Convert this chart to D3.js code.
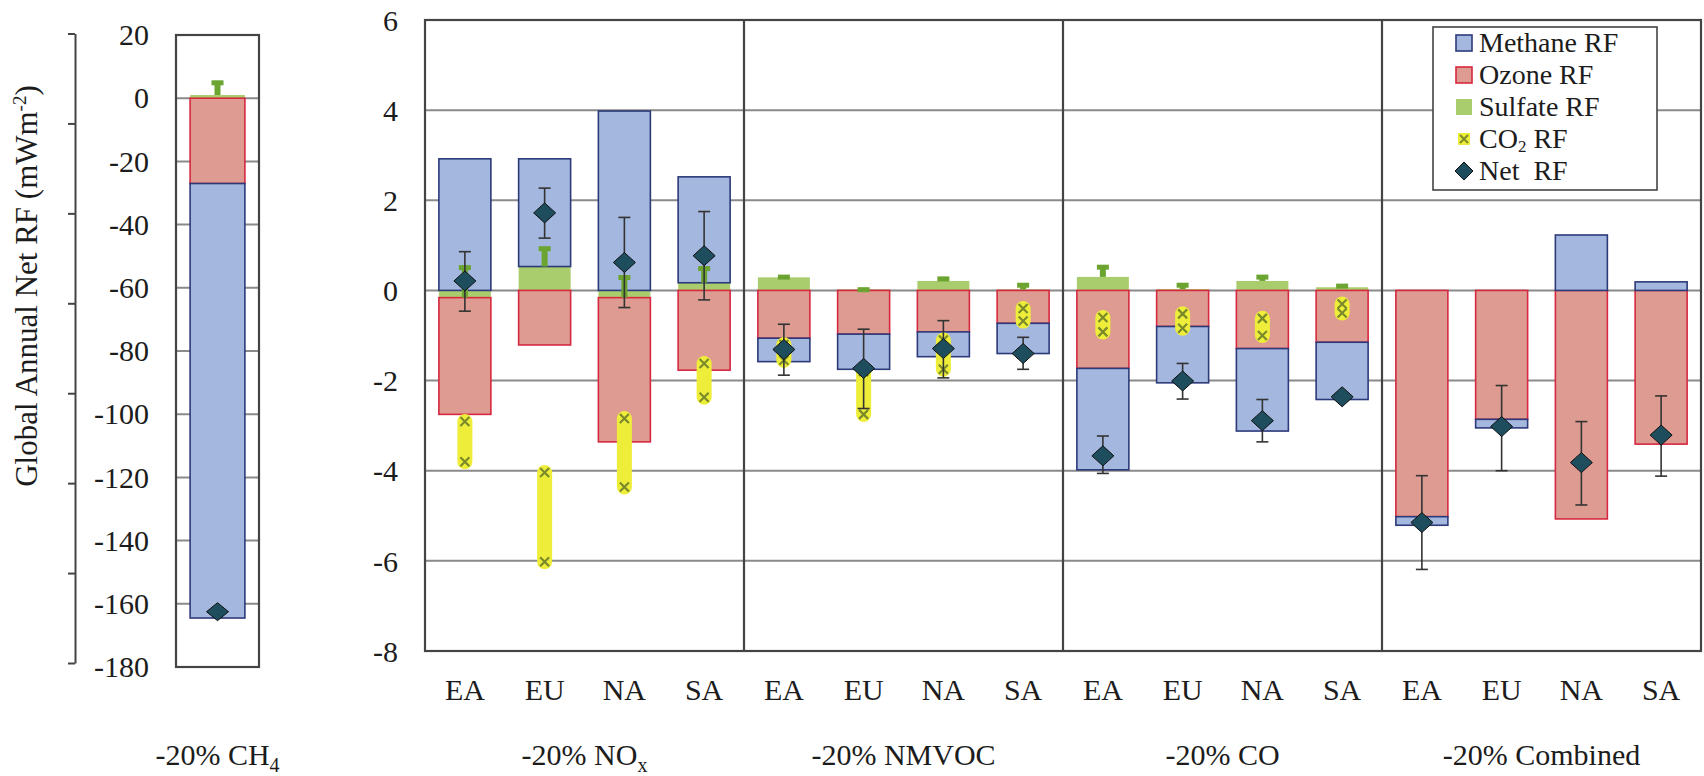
<!DOCTYPE html>
<html>
<head>
<meta charset="utf-8">
<script src="https://cdn.jsdelivr.net/npm/d3@7"></script>
<style>
  body { margin: 0; background: #fff; }
  text { font-family: "Liberation Serif", "Times New Roman", serif; fill: #1c1c1c; }
</style>
</head>
<body>
<svg id="chart" width="1704" height="776"></svg>
<script>
// ---- Data -------------------------------------------------------------
const regions = ["EA", "EU", "NA", "SA"];
const scenarioNames = ["-20% NO", "-20% NMVOC", "-20% CO", "-20% Combined"];
const scenarioSubs = ["x", "", "", ""];

// Stacked components (mW m-2), 4 regions per scenario: NOx, NMVOC, CO, Combined
const sulfateRF = [-0.16, 0.53, -0.16, 0.17,  0.29, 0.02, 0.21, 0.02,  0.30, 0.03, 0.21, 0.07,  0, 0, 0, 0];
const ozoneRF   = [-2.59, -1.21, -3.20, -1.77,  -1.06, -0.97, -0.92, -0.73,  -1.73, -0.80, -1.29, -1.15,  -5.02, -2.86, -5.07, -3.41];
const methaneRF = [2.92, 2.39, 3.98, 2.35,  -0.52, -0.78, -0.55, -0.67,  -2.25, -1.25, -1.83, -1.27,  -0.19, -0.19, 1.23, 0.19];
const sulfateErr = [0.71, 0.44, 0.49, 0.36,  0.05, 0.04, 0.09, 0.14,  0.26, 0.13, 0.13, 0.07,  0, 0, 0, 0];

// CO2 RF: two estimates per case
const co2High = [-2.91, -4.04, -2.84, -1.62,  -1.20, -1.80, -1.10, -0.40,  -0.60, -0.52, -0.62, -0.30,  null, null, null, null];
const co2Low  = [-3.80, -6.02, -4.36, -2.37,  -1.55, -2.75, -1.75, -0.68,  -0.92, -0.84, -1.00, -0.50,  null, null, null, null];

// Net RF with uncertainty range
const netRF   = [0.21, 1.72, 0.62, 0.77,  -1.31, -1.73, -1.29, -1.40,  -3.67, -2.01, -2.89, -2.36,  -5.15, -3.02, -3.82, -3.21];
const netLow  = [-0.46, 1.16, -0.38, -0.21,  -1.88, -2.62, -1.94, -1.75,  -4.06, -2.41, -3.36, -2.45,  -6.19, -4.00, -4.76, -4.12];
const netHigh = [0.86, 2.27, 1.62, 1.75,  -0.75, -0.86, -0.67, -1.04,  -3.23, -1.62, -2.42, -2.28,  -4.11, -2.11, -2.91, -2.34];

const mainTicks = [-8, -6, -4, -2, 0, 2, 4, 6];

// Methane perturbation (separate panel)
const ch4Sulfate = [1];
const ch4Ozone = [-27];
const ch4Methane = [-137.5];
const ch4SulfateErr = [4.5];
const ch4Net = [-162.5];
const ch4Ticks = [20, 0, -20, -40, -60, -80, -100, -120, -140, -160, -180];

const legendItems = ["Methane RF", "Ozone RF", "Sulfate RF", "CO2 RF", "Net RF"];

// ---- Styles ------------------------------------------------------------
const col = {
  methane: "#a4b7de", methaneLine: "#2d3a7a",
  ozone: "#de9b92", ozoneLine: "#d6283f",
  sulfate: "#a9cd6d", sulfateErr: "#6ca432",
  co2: "#eeee3a", co2Mark: "#7a8a2a",
  net: "#1e4d5e", netLine: "#111",
  grid: "#8a8a8a", frame: "#444"
};
const FONT = 30;

const svg = d3.select("#chart");

function diamondPath(hw, hh) {
  return `M0,${-hh}L${hw},0L0,${hh}L${-hw},0Z`;
}
function crossPath(s) {
  return `M${-s},${-s}L${s},${s}M${-s},${s}L${s},${-s}`;
}

function drawStack(g, rows, xs, ys) {
  const layers = d3.stack().keys(["sulfate", "ozone", "methane"]).offset(d3.stackOffsetDiverging)(rows);
  const fills = { sulfate: col.sulfate, ozone: col.ozone, methane: col.methane };
  const lines = { sulfate: "none", ozone: col.ozoneLine, methane: col.methaneLine };
  layers.forEach(layer => {
    g.selectAll(null)
      .data(layer.filter(d => d[1] !== d[0]))
      .join("rect")
      .attr("x", d => xs(d.data.key))
      .attr("width", xs.bandwidth())
      .attr("y", d => ys(Math.max(d[0], d[1])))
      .attr("height", d => Math.abs(ys(d[0]) - ys(d[1])))
      .attr("fill", fills[layer.key])
      .attr("stroke", lines[layer.key])
      .attr("stroke-width", 1.6);
  });
}

function drawSulfateErr(g, rows, xs, ys) {
  const withErr = rows.filter(d => d.sErr > 0);
  const cx = d => xs(d.key) + xs.bandwidth() / 2;
  g.selectAll(null).data(withErr).join("line")
    .attr("x1", cx).attr("x2", cx)
    .attr("y1", d => ys(d.sulfate)).attr("y2", d => ys(d.sulfate + d.sErr))
    .attr("stroke", col.sulfateErr).attr("stroke-width", 6);
  g.selectAll(null).data(withErr).join("line")
    .attr("x1", d => cx(d) - 6).attr("x2", d => cx(d) + 6)
    .attr("y1", d => ys(d.sulfate + d.sErr) + 2).attr("y2", d => ys(d.sulfate + d.sErr) + 2)
    .attr("stroke", col.sulfateErr).attr("stroke-width", 5);
}

// ---- Main panel --------------------------------------------------------
const M = { x0: 425, x1: 1701, y0: 20, y1: 651 };
const keys = scenarioNames.flatMap((s, i) => regions.map(r => i + "-" + r));
const x = d3.scaleBand().domain(keys).range([M.x0, M.x1]).paddingInner(0.348).paddingOuter(0.174);
const y = d3.scaleLinear().domain([-8, 6]).range([M.y1, M.y0]);
const cx = k => x(k) + x.bandwidth() / 2;

const rows = keys.map((k, i) => ({
  key: k, sulfate: sulfateRF[i], ozone: ozoneRF[i], methane: methaneRF[i],
  sErr: sulfateErr[i], hi: co2High[i], lo: co2Low[i],
  net: netRF[i], nLo: netLow[i], nHi: netHigh[i]
}));

const main = svg.append("g");

// gridlines
main.append("g").selectAll("line").data(mainTicks).join("line")
  .attr("x1", M.x0).attr("x2", M.x1)
  .attr("y1", d => y(d)).attr("y2", d => y(d))
  .attr("stroke", col.grid).attr("stroke-width", 2);

// y axis labels (plain hyphen for negatives)
const yAxis = main.append("g").attr("transform", `translate(${M.x0},0)`)
  .call(d3.axisLeft(y).tickValues(mainTicks).tickFormat(d => String(d)).tickSize(0).tickPadding(27));
yAxis.select(".domain").remove();
yAxis.attr("font-family", null).attr("font-size", null);
yAxis.selectAll("text").attr("font-size", FONT).attr("fill", "#1c1c1c").attr("dy", "0.34em");

drawStack(main.append("g"), rows, x, y);
drawSulfateErr(main.append("g"), rows, x, y);

// CO2 ranges
const co2Rows = rows.filter(d => d.hi !== null);
const co2g = main.append("g");
co2g.selectAll("line").data(co2Rows).join("line")
  .attr("x1", d => cx(d.key)).attr("x2", d => cx(d.key))
  .attr("y1", d => y(d.hi)).attr("y2", d => y(d.lo))
  .attr("stroke", col.co2).attr("stroke-width", 15).attr("stroke-linecap", "round");
co2g.selectAll("path").data(co2Rows.flatMap(d => [{ k: d.key, v: d.hi }, { k: d.key, v: d.lo }])).join("path")
  .attr("transform", d => `translate(${cx(d.k)},${y(d.v)})`)
  .attr("d", crossPath(4.5))
  .attr("stroke", col.co2Mark).attr("stroke-width", 2.2).attr("fill", "none");

// Net RF uncertainty
const errg = main.append("g").attr("stroke", "#333").attr("stroke-width", 1.6);
errg.selectAll("line.v").data(rows).join("line")
  .attr("x1", d => cx(d.key)).attr("x2", d => cx(d.key))
  .attr("y1", d => y(d.nLo)).attr("y2", d => y(d.nHi));
errg.selectAll("line.c").data(rows.flatMap(d => [{ k: d.key, v: d.nLo }, { k: d.key, v: d.nHi }])).join("line")
  .attr("x1", d => cx(d.k) - 6).attr("x2", d => cx(d.k) + 6)
  .attr("y1", d => y(d.v)).attr("y2", d => y(d.v));

// Net RF markers
main.append("g").selectAll("path").data(rows).join("path")
  .attr("transform", d => `translate(${cx(d.key)},${y(d.net)})`)
  .attr("d", diamondPath(11, 10))
  .attr("fill", col.net).attr("stroke", col.netLine).attr("stroke-width", 1);

// group separators and frame
const half = (x.step() - x.bandwidth()) / 2;
const bounds = [1, 2, 3].map(i => x(keys[i * 4]) - half);
main.append("g").selectAll("line").data(bounds).join("line")
  .attr("x1", d => d).attr("x2", d => d).attr("y1", M.y0).attr("y2", M.y1)
  .attr("stroke", col.frame).attr("stroke-width", 2.2);
main.append("rect")
  .attr("x", M.x0).attr("y", M.y0).attr("width", M.x1 - M.x0).attr("height", M.y1 - M.y0)
  .attr("fill", "none").attr("stroke", col.frame).attr("stroke-width", 2.2);

// category labels
main.append("g").selectAll("text").data(keys).join("text")
  .attr("x", k => cx(k)).attr("y", 700)
  .attr("text-anchor", "middle").attr("font-size", FONT)
  .text(k => k.split("-")[1]);

// scenario labels
const edges = [M.x0, ...bounds, M.x1];
scenarioNames.forEach((name, i) => {
  const t = main.append("text")
    .attr("x", (edges[i] + edges[i + 1]) / 2).attr("y", 765)
    .attr("text-anchor", "middle").attr("font-size", FONT);
  t.append("tspan").text(name);
  if (scenarioSubs[i]) t.append("tspan").attr("font-size", 20).attr("dy", 7).text(scenarioSubs[i]);
});

// legend
const leg = svg.append("g").attr("transform", "translate(1433,27)");
leg.append("rect").attr("width", 224).attr("height", 163)
  .attr("fill", "#fff").attr("stroke", col.frame).attr("stroke-width", 1.6);
const rowY = i => 16 + i * 32;
legendItems.forEach((name, i) => {
  const gy = rowY(i);
  const sx = 31;
  if (i < 3) {
    const fill = [col.methane, col.ozone, col.sulfate][i];
    const line = [col.methaneLine, col.ozoneLine, "none"][i];
    leg.append("rect").attr("x", sx - 8).attr("y", gy - 8).attr("width", 16).attr("height", 16)
      .attr("fill", fill).attr("stroke", line).attr("stroke-width", 1.6);
  } else if (i === 3) {
    leg.append("rect").attr("x", sx - 6).attr("y", gy - 6).attr("width", 12).attr("height", 12).attr("fill", col.co2);
    leg.append("path").attr("transform", `translate(${sx},${gy})`).attr("d", crossPath(4))
      .attr("stroke", col.co2Mark).attr("stroke-width", 2).attr("fill", "none");
  } else {
    leg.append("path").attr("transform", `translate(${sx},${gy})`).attr("d", diamondPath(9, 9))
      .attr("fill", col.net).attr("stroke", col.netLine).attr("stroke-width", 1);
  }
  const t = leg.append("text").attr("x", 46).attr("y", gy).attr("dy", "0.32em").attr("font-size", 28)
    .style("white-space", "pre");
  if (i === 3) {
    t.append("tspan").text("CO");
    t.append("tspan").attr("font-size", 17).attr("dy", 4).text("2");
    t.append("tspan").attr("dy", -4).text(" RF");
  } else if (i === 4) {
    t.text("Net  RF");
  } else {
    t.text(name);
  }
});

// ---- Methane perturbation panel ---------------------------------------
const L = { x0: 176, x1: 259, y0: 35, y1: 667 };
const xL = d3.scaleBand().domain(["CH4"]).range([L.x0, L.x1]).paddingInner(0.34).paddingOuter(0.17);
const yL = d3.scaleLinear().domain([-180, 20]).range([L.y1, L.y0]);
const rowsL = [{ key: "CH4", sulfate: ch4Sulfate[0], ozone: ch4Ozone[0], methane: ch4Methane[0], sErr: ch4SulfateErr[0], net: ch4Net[0] }];

const left = svg.append("g");
left.append("g").selectAll("line").data(ch4Ticks).join("line")
  .attr("x1", L.x0).attr("x2", L.x1)
  .attr("y1", d => yL(d)).attr("y2", d => yL(d))
  .attr("stroke", col.grid).attr("stroke-width", 2);

drawStack(left.append("g"), rowsL, xL, yL);
drawSulfateErr(left.append("g"), rowsL, xL, yL);
left.append("g").selectAll("path").data(rowsL).join("path")
  .attr("transform", d => `translate(${xL(d.key) + xL.bandwidth() / 2},${yL(d.net)})`)
  .attr("d", diamondPath(11, 9))
  .attr("fill", col.net).attr("stroke", col.netLine).attr("stroke-width", 1);

left.append("rect")
  .attr("x", L.x0).attr("y", L.y0).attr("width", L.x1 - L.x0).attr("height", L.y1 - L.y0)
  .attr("fill", "none").attr("stroke", col.frame).attr("stroke-width", 2.2);

// value labels
left.append("g").selectAll("text").data(ch4Ticks).join("text")
  .attr("x", 149).attr("y", d => yL(d)).attr("dy", "0.34em")
  .attr("text-anchor", "end").attr("font-size", FONT)
  .text(d => String(d));

// outer axis line with its tick marks
const yOuter = d3.scaleLinear().domain([0, 7]).range([663, 33.5]);
const outer = left.append("g").attr("transform", "translate(75,0)")
  .call(d3.axisLeft(yOuter).tickValues(d3.range(8)).tickFormat("").tickSizeInner(7).tickSizeOuter(0));
outer.selectAll("path,line").attr("stroke", col.frame).attr("stroke-width", 2);

// y title
const yt = svg.append("text")
  .attr("transform", "translate(37,286) rotate(-90)")
  .attr("text-anchor", "middle").attr("font-size", 31);
yt.append("tspan").text("Global Annual Net RF (mWm");
yt.append("tspan").attr("font-size", 19).attr("dy", -11).text("-2");
yt.append("tspan").attr("dy", 11).text(")");

// scenario label for the methane panel
const cl = left.append("text")
  .attr("x", (L.x0 + L.x1) / 2).attr("y", 765)
  .attr("text-anchor", "middle").attr("font-size", FONT);
cl.append("tspan").text("-20% CH");
cl.append("tspan").attr("font-size", 20).attr("dy", 7).text("4");
</script>
</body>
</html>
